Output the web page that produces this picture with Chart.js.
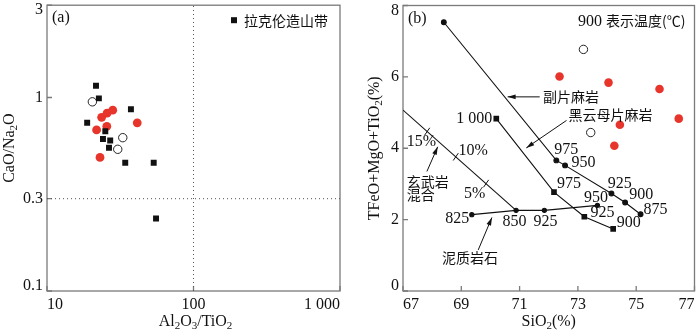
<!DOCTYPE html>
<html><head><meta charset="utf-8">
<script src="https://cdn.jsdelivr.net/npm/chart.js@4.4.1/dist/chart.umd.min.js"></script>
<style>
html,body{margin:0;padding:0;background:#fff;}
#wrap{position:relative;width:700px;height:331px;overflow:hidden;background:#fff;}
.box{position:absolute;top:0;height:331px;width:350px;}
</style></head><body>
<div id="wrap">
<div class="box" style="left:0"><canvas id="ca"></canvas></div>
<div class="box" style="left:350px"><canvas id="cb"></canvas></div>
</div>
<script>
// ================= Panel (a) data =================
const aXTicks = [10, 100, 1000];
const aXTickLabels = ['10', '100', '1 000'];
const aYTicks = [0.1, 0.3, 1, 3];
const aYTickLabels = ['0.1', '0.3', '1', '3'];
const lachlanLabel = '拉克伦造山带';
const lachlanX = [21.6, 22.6, 18.8, 37.4, 25.0, 24.1, 27.0, 26.5, 34.2, 53.5, 55.5];
const lachlanY = [1.15, 0.99, 0.74, 0.87, 0.67, 0.61, 0.60, 0.55, 0.46, 0.46, 0.237];
const redAX = [23.6, 25.7, 28.1, 25.6, 21.8, 23.0, 41.3];
const redAY = [0.79, 0.83, 0.86, 0.71, 0.68, 0.49, 0.74];
const openAX = [20.4, 32.9, 30.4];
const openAY = [0.95, 0.62, 0.54];
const refLineX = 100;
const refLineY = 0.3;

// ================= Panel (b) data =================
const bXTicks = [67, 69, 71, 73, 75, 77];
const bXTickLabels = ['67', '69', '71', '73', '75', '77'];
const bYTicks = [0, 2, 4, 6, 8];
const bYTickLabels = ['0', '2', '4', '6', '8'];
const basaltMixX = [67, 70.88];
const basaltMixY = [5.07, 2.26];
const basaltPctX = [67.83, 68.81, 69.85];
const basaltPctY = [4.47, 3.76, 3.01];
const paraX = [68.4, 72.26, 72.56, 74.15, 74.62, 75.15];
const paraY = [7.53, 3.66, 3.52, 2.73, 2.48, 2.15];
const bioX = [70.2, 72.18, 73.22, 74.21];
const bioY = [4.83, 2.77, 2.08, 1.74];
const peliteX = [69.36, 70.88, 71.85, 73.67];
const peliteY = [2.14, 2.26, 2.26, 2.40];
const redBX = [72.37, 74.05, 75.8, 76.46, 74.44, 74.25];
const redBY = [6.01, 5.84, 5.66, 4.83, 4.66, 4.07];
const openBX = [73.19, 73.44];
const openBY = [6.77, 4.44];
const arrowFromX = [71.69, 72.61, 67.82, 69.58];
const arrowFromY = [5.44, 4.78, 3.35, 1.15];
const arrowToX = [70.59, 71.23, 68.19, 70.05];
const arrowToY = [5.44, 4.01, 4.04, 2.06];

// ================= annotation texts =================
const bNotes = [
  {t: '副片麻岩', f: 'c', x: 71.80, y: 5.44},
  {t: '黑云母片麻岩', f: 'c', x: 72.68, y: 4.94},
  {t: '1 000', f: 'n', x: 70.06, y: 4.84, a: 'right'},
  {t: '15%', f: 'n', x: 67.13, y: 4.20},
  {t: '10%', f: 'n', x: 68.90, y: 3.95},
  {t: '玄武岩', f: 'c', x: 67.13, y: 3.07},
  {t: '混合', f: 'c', x: 67.13, y: 2.69},
  {t: '5%', f: 'n', x: 69.09, y: 2.75},
  {t: '825', f: 'n', x: 68.45, y: 2.06},
  {t: '850', f: 'n', x: 70.41, y: 1.97},
  {t: '925', f: 'n', x: 71.48, y: 1.97},
  {t: '975', f: 'n', x: 72.19, y: 3.99},
  {t: '950', f: 'n', x: 72.78, y: 3.61},
  {t: '975', f: 'n', x: 72.28, y: 3.03},
  {t: '925', f: 'n', x: 74.02, y: 3.03},
  {t: '900', f: 'n', x: 74.76, y: 2.72},
  {t: '950', f: 'n', x: 73.21, y: 2.63},
  {t: '875', f: 'n', x: 75.25, y: 2.29},
  {t: '925', f: 'n', x: 73.43, y: 2.21},
  {t: '900', f: 'n', x: 74.33, y: 1.94},
  {t: '泥质岩石', f: 'c', x: 68.34, y: 0.92}
];

const SERIF = "'Liberation Serif','Times New Roman',serif";
const CJK = "'Noto Sans CJK SC','Noto Sans CJK JP',sans-serif";
const RED = '#e8352c';

function pts(xs, ys) { return xs.map((x, i) => ({x: x, y: ys[i]})); }

function parseSub(s) {
  const segs = [];
  for (let i = 0; i < s.length; i++) {
    if (s[i] === '_') { segs.push([s[i + 1], true]); i++; }
    else if (segs.length && !segs[segs.length - 1][1]) segs[segs.length - 1][0] += s[i];
    else segs.push([s[i], false]);
  }
  return segs;
}
function drawSub(ctx, s, cx, cy, size) {
  const segs = parseSub(s);
  const sub = Math.round(size * 0.66);
  let w = 0;
  segs.forEach(g => { ctx.font = (g[1] ? sub : size) + 'px ' + SERIF; w += ctx.measureText(g[0]).width; });
  let x = cx - w / 2;
  ctx.textAlign = 'left'; ctx.textBaseline = 'alphabetic';
  const base = cy + size * 0.33;
  segs.forEach(g => {
    ctx.font = (g[1] ? sub : size) + 'px ' + SERIF;
    ctx.fillText(g[0], x, g[1] ? base + size * 0.2 : base);
    x += ctx.measureText(g[0]).width;
  });
}

const decor = {
  id: 'decor',
  beforeDatasetsDraw(chart, args, o) {
    const {ctx, chartArea: ca} = chart;
    const x = chart.scales.x, y = chart.scales.y;
    ctx.save();
    ctx.strokeStyle = '#7a7a7a'; ctx.lineWidth = 1.3;
    ctx.strokeRect(ca.left, ca.top, ca.right - ca.left, ca.bottom - ca.top);
    ctx.beginPath();
    x.ticks.forEach(t => { const p = x.getPixelForValue(t.value); ctx.moveTo(p, ca.bottom); ctx.lineTo(p, ca.bottom - 5); });
    y.ticks.forEach(t => { const p = y.getPixelForValue(t.value); ctx.moveTo(ca.left, p); ctx.lineTo(ca.left + 5, p); });
    ctx.stroke();
    ctx.fillStyle = '#111'; ctx.font = '16px ' + SERIF; ctx.textAlign = 'right'; ctx.textBaseline = 'middle';
    const n = y.ticks.length;
    y.ticks.forEach((t, i) => {
      let p = y.getPixelForValue(t.value);
      if (i === 0) p -= 5;
      if (i === n - 1) p += 5;
      ctx.fillText(o.yLabels[i], ca.left - 4, p);
    });
    ctx.fillStyle = '#111';
    drawSub(ctx, o.xTitle, (ca.left + ca.right) / 2 + o.xTitleDx, 321, 16);
    ctx.save();
    ctx.translate(o.yTitleX, (ca.top + ca.bottom) / 2);
    ctx.rotate(-Math.PI / 2);
    drawSub(ctx, o.yTitle, 0, 0, 16);
    ctx.restore();
    ctx.restore();
  },
  afterDatasetsDraw(chart, args, o) {
    const {ctx, chartArea: ca} = chart;
    const x = chart.scales.x, y = chart.scales.y;
    ctx.save();
    ctx.fillStyle = '#111';
    // panel label
    ctx.font = '16px ' + SERIF; ctx.textAlign = 'left'; ctx.textBaseline = 'middle';
    ctx.fillText(o.panel, ca.left + 5, ca.top + 13);
    // arrowheads
    (o.arrows || []).forEach(a => {
      const x0 = x.getPixelForValue(a.fx), y0 = y.getPixelForValue(a.fy);
      const x1 = x.getPixelForValue(a.tx), y1 = y.getPixelForValue(a.ty);
      const ang = Math.atan2(y1 - y0, x1 - x0);
      ctx.save(); ctx.translate(x1, y1); ctx.rotate(ang);
      ctx.beginPath(); ctx.moveTo(0, 0); ctx.lineTo(-8, -2.4); ctx.lineTo(-8, 2.4); ctx.closePath(); ctx.fill();
      ctx.restore();
    });
    // notes
    (o.notes || []).forEach(nt => {
      ctx.font = nt.f === 'c' ? '14px ' + CJK : '16px ' + SERIF;
      ctx.textAlign = nt.a || 'left'; ctx.textBaseline = 'middle';
      ctx.fillText(nt.t, x.getPixelForValue(nt.x), y.getPixelForValue(nt.y) + (nt.f === 'c' ? 0 : 1));
    });
    // legend
    if (o.legend) {
      const lx = ca.right - 106, ly = ca.top + 15;
      ctx.fillRect(lx - 3, ly - 3, 6, 6);
      ctx.font = '14px ' + CJK; ctx.textAlign = 'left'; ctx.textBaseline = 'middle';
      ctx.fillText(o.legend, lx + 10, ly);
    }
    // temperature note
    if (o.tempNote) {
      ctx.textBaseline = 'middle';
      ctx.font = '14px ' + CJK; const w2 = ctx.measureText(o.tempNote[1]).width;
      ctx.font = '16px ' + SERIF; const w1 = ctx.measureText(o.tempNote[0]).width;
      const right = ca.right - 9, cy = ca.top + 15;
      ctx.textAlign = 'left';
      ctx.fillText(o.tempNote[0], right - w1 - w2, cy + 1);
      ctx.font = '14px ' + CJK;
      ctx.fillText(o.tempNote[1], right - w2, cy);
    }
    ctx.restore();
  }
};

function baseOptions(cfg) {
  return {
    responsive: true, maintainAspectRatio: false, animation: false, devicePixelRatio: 1,
    layout: {padding: {left: 0, right: cfg.padRight, top: 2, bottom: 0}},
    plugins: {legend: {display: false}, tooltip: {enabled: false}, decor: cfg.decor},
    scales: {
      x: {
        type: cfg.xType, min: cfg.xMin, max: cfg.xMax,
        grid: {display: false, drawTicks: false}, border: {display: false},
        afterBuildTicks: s => { s.ticks = cfg.xTicks.map(v => ({value: v})); },
        afterFit: s => { s.height = 40; },
        ticks: {
          autoSkip: false, maxRotation: 0, align: 'inner', padding: 4, color: '#111',
          font: {family: SERIF, size: 16},
          callback: (v, i) => cfg.xLabels[i]
        }
      },
      y: {
        type: cfg.yType, min: cfg.yMin, max: cfg.yMax,
        grid: {display: false, drawTicks: false}, border: {display: false},
        afterBuildTicks: s => { s.ticks = cfg.yTicks.map(v => ({value: v})); },
        afterFit: s => { s.width = cfg.yWidth; },
        ticks: {display: false}
      }
    }
  };
}

// ---------- chart (a) ----------
new Chart(document.getElementById('ca'), {
  type: 'scatter',
  data: {datasets: [
    {label: 'ref x', data: [{x: refLineX, y: 0.1}, {x: refLineX, y: 3}], showLine: true, borderColor: '#555', borderWidth: 1, borderDash: [1, 3], pointRadius: 0},
    {label: 'ref y', data: [{x: 10, y: refLineY}, {x: 1000, y: refLineY}], showLine: true, borderColor: '#555', borderWidth: 1, borderDash: [1, 3], pointRadius: 0},
    {label: lachlanLabel, data: pts(lachlanX, lachlanY), pointStyle: 'rect', pointRadius: 4.2, backgroundColor: '#111', borderColor: '#111', borderWidth: 0},
    {label: 'red', data: pts(redAX, redAY), pointStyle: 'circle', pointRadius: 4.4, backgroundColor: RED, borderColor: RED, borderWidth: 0},
    {label: 'open', data: pts(openAX, openAY), pointStyle: 'circle', pointRadius: 4.2, backgroundColor: '#fff', borderColor: '#222', borderWidth: 1}
  ]},
  options: baseOptions({
    padRight: 10, xType: 'logarithmic', xMin: 10, xMax: 1000, yType: 'logarithmic', yMin: 0.1, yMax: 3,
    xTicks: aXTicks, xLabels: aXTickLabels, yTicks: aYTicks, yWidth: 47,
    decor: {yLabels: aYTickLabels, xTitle: 'Al_2O_3/TiO_2', xTitleDx: 2, yTitle: 'CaO/Na_2O', yTitleX: 9,
            panel: '(a)', legend: lachlanLabel}
  }),
  plugins: [decor]
});

// ---------- chart (b) ----------
const arrowSets = arrowFromX.map((fx, i) => ({
  label: 'arrow' + i,
  data: [{x: fx, y: arrowFromY[i]}, {x: arrowToX[i], y: arrowToY[i]}],
  showLine: true, borderColor: '#111', borderWidth: 1, pointRadius: 0
}));
new Chart(document.getElementById('cb'), {
  type: 'scatter',
  data: {datasets: [
    {label: 'basalt mixing', data: pts(basaltMixX, basaltMixY), showLine: true, borderColor: '#111', borderWidth: 1.1, pointRadius: 0},
    {label: 'basalt %', data: pts(basaltPctX, basaltPctY), pointStyle: 'line', rotation: -55, pointRadius: 4.5, borderColor: '#111', borderWidth: 1},
    {label: 'paragneiss', data: pts(paraX, paraY), showLine: true, borderColor: '#111', borderWidth: 1.1, pointStyle: 'circle', pointRadius: 2.4, backgroundColor: '#111'},
    {label: 'biotite gneiss', data: pts(bioX, bioY), showLine: true, borderColor: '#111', borderWidth: 1.1, pointStyle: 'rect', pointRadius: 4, backgroundColor: '#111', pointBorderWidth: 0},
    {label: 'pelite', data: pts(peliteX, peliteY), showLine: true, borderColor: '#111', borderWidth: 1.1, pointStyle: 'circle', pointRadius: 2.1, backgroundColor: '#111'},
    {label: 'red', data: pts(redBX, redBY), pointStyle: 'circle', pointRadius: 4.3, backgroundColor: RED, borderColor: RED, borderWidth: 0},
    {label: 'open', data: pts(openBX, openBY), pointStyle: 'circle', pointRadius: 4.2, backgroundColor: '#fff', borderColor: '#222', borderWidth: 1}
  ].concat(arrowSets)},
  options: baseOptions({
    padRight: 1, xType: 'linear', xMin: 67, xMax: 77, yType: 'linear', yMin: 0, yMax: 8,
    xTicks: bXTicks, xLabels: bXTickLabels, yTicks: bYTicks, yWidth: 53,
    decor: {yLabels: bYTickLabels, xTitle: 'SiO_2(%)', xTitleDx: 0, yTitle: 'TFeO+MgO+TiO_2(%)', yTitleX: 24,
            panel: '(b)', notes: bNotes, tempNote: ['900 ', '表示温度(℃)'],
            arrows: arrowFromX.map((fx, i) => ({fx: fx, fy: arrowFromY[i], tx: arrowToX[i], ty: arrowToY[i]}))}
  }),
  plugins: [decor]
});
</script>
</body></html>
